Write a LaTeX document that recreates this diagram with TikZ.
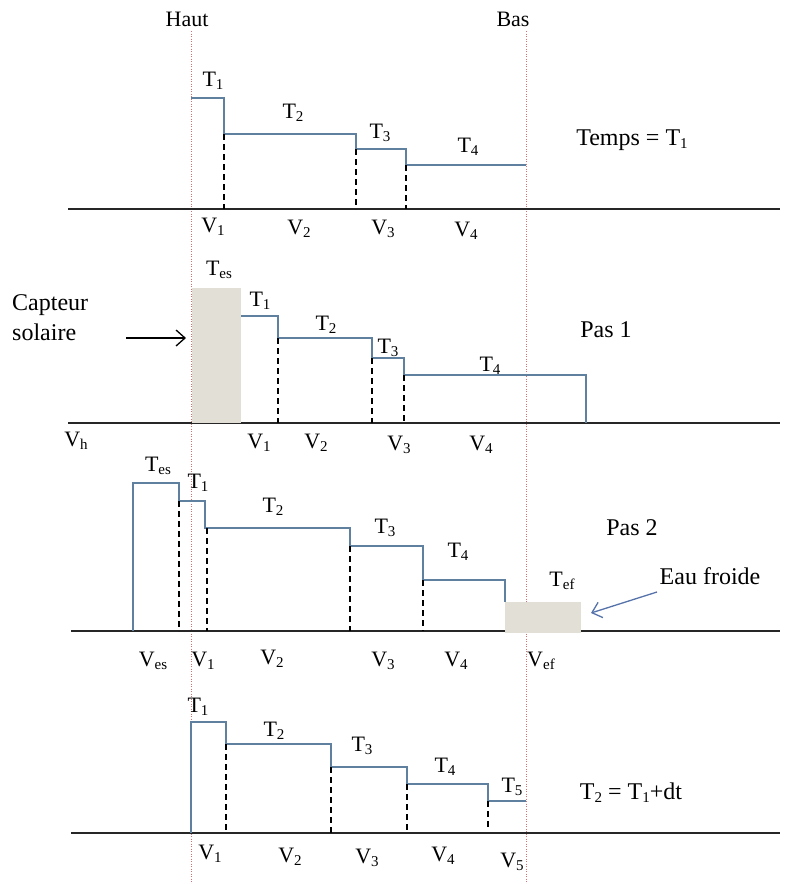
\documentclass[tikz,border=0pt]{standalone}
\usepackage{fontspec}
\setmainfont{Liberation Serif}
\usetikzlibrary{arrows.meta}
\definecolor{stepc}{RGB}{96,128,160}
\definecolor{dotc}{RGB}{205,115,115}
\definecolor{boxc}{RGB}{226,223,214}
\definecolor{arrc}{RGB}{85,115,170}
\newcommand{\sbs}[1]{\raisebox{-0.3ex}{\fontsize{15}{15}\selectfont #1}}
\begin{document}
\begin{tikzpicture}[x=1pt,y=-1pt,
  stepline/.style={draw=stepc, line width=1.3pt},
  dashline/.style={draw=black, line width=1.9pt, dash pattern=on 6pt off 4pt},
  axisline/.style={draw=black!85, line width=1.8pt},
  guide/.style={draw=dotc, line width=1pt, dash pattern=on 1pt off 1.5pt},
  lab/.style={inner sep=0pt, font=\fontsize{22}{24}\selectfont},
  big/.style={inner sep=0pt, font=\fontsize{24}{28}\selectfont},
  greybox/.style={fill=boxc, draw=none}]
\fill[white] (0,0) rectangle (788,884);
\useasboundingbox (0,0) rectangle (788,884);

% guides
\node[lab] (haut) at (187,19) {Haut};
\node[lab] (bas) at (513,19) {Bas};
\coordinate (g1a) at (191,31); \coordinate (g1b) at (191,884);
\coordinate (g2a) at (526,31); \coordinate (g2b) at (526,884);
\draw[guide] (g1a) -- (g1b);
\draw[guide] (g2a) -- (g2b);

% ---------- panel 1 ----------
\draw[axisline] (68,209) -- (780,209);
\draw[stepline] (191,98) -- (224,98) -- (224,134) -- (356,134) -- (356,149) -- (406,149) -- (406,165) -- (526,165);
\draw[dashline] (224,134) -- (224,209);
\draw[dashline] (356,149) -- (356,209);
\draw[dashline] (406,165) -- (406,209);
\node[lab] (a1) at (213,81) {T\sbs{1}};
\node[lab] (a2) at (293,113) {T\sbs{2}};
\node[lab] (a3) at (380,133) {T\sbs{3}};
\node[lab] (a4) at (468,147) {T\sbs{4}};
\node[lab] (av1) at (213,227) {V\sbs{1}};
\node[lab] (av2) at (299,229) {V\sbs{2}};
\node[lab] (av3) at (383,229) {V\sbs{3}};
\node[lab] (av4) at (466,231) {V\sbs{4}};
\node[big] (temps) at (632,140) {Temps = T\sbs{1}};

% ---------- panel 2 ----------
\draw[axisline] (68,423) -- (780,423);
\fill[greybox] (192,288) rectangle (241,423);
\draw[stepline] (241,316) -- (278,316) -- (278,338) -- (372,338) -- (372,358) -- (404,358) -- (404,375) -- (586,375) -- (586,423);
\draw[dashline] (278,338) -- (278,423);
\draw[dashline] (372,358) -- (372,423);
\draw[dashline] (404,375) -- (404,423);
\node[lab] (bes) at (219,270) {T\sbs{es}};
\node[lab] (b1) at (260,301) {T\sbs{1}};
\node[lab] (b2) at (326,325) {T\sbs{2}};
\node[lab] (b3) at (388,348) {T\sbs{3}};
\node[lab] (b4) at (490,366) {T\sbs{4}};
\node[lab] (bvh) at (76,441) {V\sbs{h}};
\node[lab] (bv1) at (259,443) {V\sbs{1}};
\node[lab] (bv2) at (316,443) {V\sbs{2}};
\node[lab] (bv3) at (399,445) {V\sbs{3}};
\node[lab] (bv4) at (481,445) {V\sbs{4}};
\node[big, align=left, anchor=west] (capteur) at (12,318) {Capteur\\[2pt]solaire};
\coordinate (capA) at (126,338);
\coordinate (capB) at (186,338);
\draw[line width=1.3pt, -{Straight Barb[length=9pt,width=16pt]}] (capA) -- (capB);
\node[big] (pas1) at (606,330) {Pas 1};

% ---------- panel 3 ----------
\draw[axisline] (71,631) -- (780,631);
\draw[stepline] (133,631) -- (133,483) -- (179,483) -- (179,501) -- (205,501) -- (205,528) -- (350,528) -- (350,546) -- (423,546) -- (423,580) -- (505,580) -- (505,602);
\fill[greybox] (505,602) rectangle (581,632.5);
\draw[dashline] (179,501) -- (179,631);
\draw[dashline] (207,528) -- (207,631);
\draw[dashline] (350,546) -- (350,631);
\draw[dashline] (423,580) -- (423,631);
\node[lab] (ces) at (158,466) {T\sbs{es}};
\node[lab] (c1) at (198,483) {T\sbs{1}};
\node[lab] (c2) at (273,507) {T\sbs{2}};
\node[lab] (c3) at (385,528) {T\sbs{3}};
\node[lab] (c4) at (458,552) {T\sbs{4}};
\node[lab] (cef) at (562,581) {T\sbs{ef}};
\node[lab] (cves) at (153,661) {V\sbs{es}};
\node[lab] (cv1) at (203,661) {V\sbs{1}};
\node[lab] (cv2) at (272,659) {V\sbs{2}};
\node[lab] (cv3) at (383,661) {V\sbs{3}};
\node[lab] (cv4) at (456,661) {V\sbs{4}};
\node[lab] (cvef) at (541,661) {V\sbs{ef}};
\node[big] (eau) at (710,576) {Eau froide};
\coordinate (eauA) at (657,592);
\coordinate (eauB) at (591,613);
\draw[draw=arrc, line width=1.3pt, -{Straight Barb[length=9pt,width=16pt]}] (eauA) -- (eauB);
\node[big] (pas2) at (632,528) {Pas 2};

% ---------- panel 4 ----------
\draw[axisline] (71,833) -- (780,833);
\draw[stepline] (191,833) -- (191,722) -- (226,722) -- (226,744) -- (331,744) -- (331,767) -- (407,767) -- (407,784) -- (488,784) -- (488,801) -- (526,801);
\draw[dashline] (226,744) -- (226,833);
\draw[dashline] (331,767) -- (331,833);
\draw[dashline] (407,784) -- (407,833);
\draw[dashline] (488,801) -- (488,827);
\node[lab] (d1) at (198,707) {T\sbs{1}};
\node[lab] (d2) at (274,731) {T\sbs{2}};
\node[lab] (d3) at (362,746) {T\sbs{3}};
\node[lab] (d4) at (445,767) {T\sbs{4}};
\node[lab] (d5) at (512,787) {T\sbs{5}};
\node[lab] (dv1) at (210,854) {V\sbs{1}};
\node[lab] (dv2) at (290,857) {V\sbs{2}};
\node[lab] (dv3) at (367,858) {V\sbs{3}};
\node[lab] (dv4) at (443,856) {V\sbs{4}};
\node[lab] (dv5) at (512,862) {V\sbs{5}};
\node[big] (eq) at (631,793) {T\sbs{2} = T\sbs{1}+dt};
\end{tikzpicture}
\end{document}
